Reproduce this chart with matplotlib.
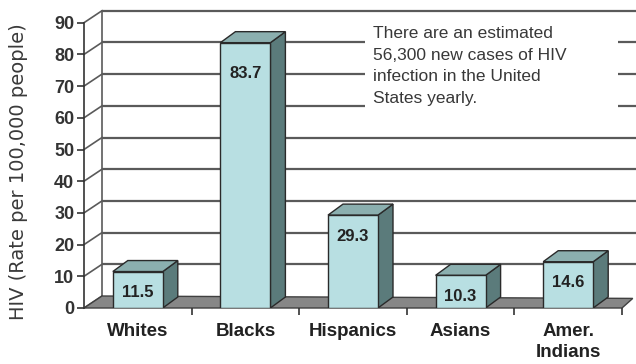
import matplotlib
matplotlib.use("Agg")
import matplotlib.pyplot as plt
from matplotlib.patches import Polygon, Rectangle

categories = ["Whites", "Blacks", "Hispanics", "Asians", "Amer.\nIndians"]
values = [11.5, 83.7, 29.3, 10.3, 14.6]
yticks = [0, 10, 20, 30, 40, 50, 60, 70, 80, 90]
ylabel = "HIV (Rate per 100,000 people)"
note = "There are an estimated\n56,300 new cases of HIV\ninfection in the United\nStates yearly."

W, H = 636, 364
fig = plt.figure(figsize=(W / 100, H / 100), dpi=100)
fig.patch.set_facecolor("white")

# pixel geometry
x0px, y0px = 84, 308          # front origin
pxcat = 107.6                 # pixels per category
pxval = 3.17                  # pixels per unit value
xmax = (W - x0px) / pxcat
ymax = y0px / pxval
ax = fig.add_axes([x0px / W, (H - y0px) / H, (W - x0px) / W, y0px / H])
ax.set_xlim(0, xmax)
ax.set_ylim(0, ymax)
ax.set_facecolor("none")

DX, DY = 18 / pxcat, 12 / pxval      # wall depth
BDX, BDY = 15 / pxcat, 11 / pxval    # bar depth
BW = 50 / pxcat
n = len(categories)
grid_c = "#5a5a5a"

# floor
floor = Polygon([(0, 0), (n, 0), (n + 0.1, DY * 0.8), (DX, DY)], closed=True,
                facecolor="#878787", edgecolor="#404040", lw=1, zorder=1, clip_on=False)
ax.add_patch(floor)

# back wall gridlines and side-wall diagonals
for v in yticks:
    if v > 0:
        ax.plot([DX, xmax], [v + DY, v + DY], color=grid_c, lw=1.6, zorder=0.5,
                solid_capstyle="butt", clip_on=False)
    ax.plot([0, DX], [v, v + DY], color=grid_c, lw=1.2, zorder=0.5, clip_on=False)
ax.plot([DX, DX], [DY, yticks[-1] + DY], color=grid_c, lw=1.2, zorder=0.5)

# note box on back wall
bx0, bx1 = (365 - x0px) / pxcat, (618 - x0px) / pxcat
by0, by1 = (y0px - 120) / pxval, (y0px - 22) / pxval
ax.add_patch(Rectangle((bx0, by0), bx1 - bx0, by1 - by0, facecolor="white",
                       edgecolor="none", zorder=0.8))
ax.text((373 - x0px) / pxcat, (y0px - 26) / pxval, note, ha="left", va="top",
        fontsize=12.5, color="#383838", family="Liberation Sans",
        linespacing=1.55, zorder=0.9)

# bars
for i, v in enumerate(values):
    xl = i + 0.5 - BW / 2
    side = Polygon([(xl + BW, 0), (xl + BW + BDX, BDY), (xl + BW + BDX, v + BDY), (xl + BW, v)],
                   closed=True, facecolor="#5b7b7b", edgecolor="#2a2a2a", lw=1, zorder=3)
    top = Polygon([(xl, v), (xl + BW, v), (xl + BW + BDX, v + BDY), (xl + BDX, v + BDY)],
                  closed=True, facecolor="#8bafaf", edgecolor="#2a2a2a", lw=1, zorder=3)
    front = Rectangle((xl, 0), BW, v, facecolor="#b8dfe2", edgecolor="#2a2a2a", lw=1, zorder=4)
    ax.add_patch(side)
    ax.add_patch(top)
    ax.add_patch(front)
    off = -31 if v > 50 else -21
    ax.annotate(f"{v}", (i + 0.5, v), xytext=(0, off), textcoords="offset pixels",
                ha="center", va="center", fontsize=12, fontweight="bold",
                color="#222222", family="Liberation Sans", zorder=5)

# axes styling
for s in ["top", "right", "bottom"]:
    ax.spines[s].set_visible(False)
ax.spines["left"].set_bounds(0, yticks[-1])
ax.spines["left"].set_color("#333333")
ax.spines["left"].set_linewidth(1.2)
ax.set_yticks(yticks)
ax.set_yticklabels([str(t) for t in yticks], fontsize=13, fontweight="bold",
                   color="#333333", family="Liberation Sans")
ax.tick_params(axis="y", direction="out", length=5, width=1.2, color="#333333", pad=2)

ax.set_xticks([i + 0.5 for i in range(n)])
ax.set_xticklabels(categories, fontsize=13.5, fontweight="bold", color="#222222",
                   family="Liberation Sans", linespacing=1.28, va="top")
ax.tick_params(axis="x", which="major", length=0, pad=11)
ax.set_xticks(list(range(1, n + 1)), minor=True)
ax.tick_params(axis="x", which="minor", direction="out", length=5, width=1.2, color="#333333")

fig.text(19 / W, 1 - 172 / H, ylabel, rotation=90, ha="center", va="center",
         fontsize=14, color="#3a3a3a", family="DejaVu Sans")

fig.savefig("out.png", dpi=100)
